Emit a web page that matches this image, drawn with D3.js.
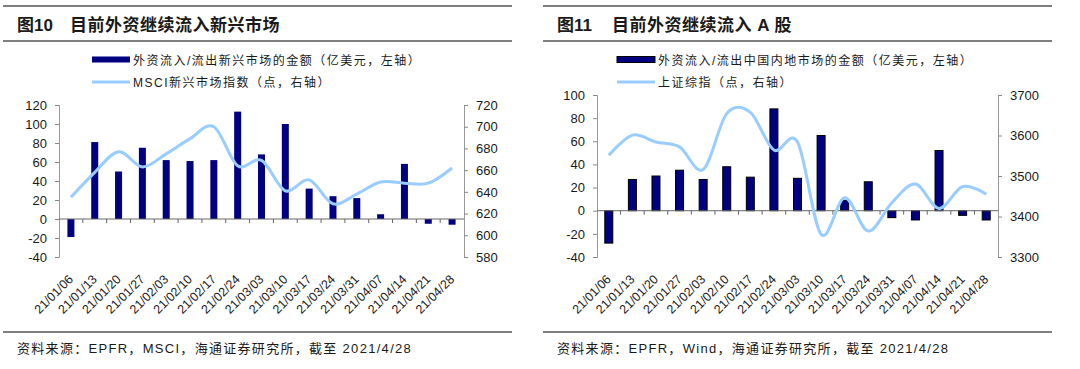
<!DOCTYPE html>
<html>
<head>
<meta charset="utf-8">
<script src="https://cdn.jsdelivr.net/npm/d3@7"></script>
<style>
  body { margin: 0; background: #fff; }
  svg text { font-family: "Liberation Sans", "Noto Sans CJK SC", sans-serif; fill: #1a1a1a; }
</style>
</head>
<body>
<div id="chart"></div>
<script>
// weeks (shared by both panels)
var dates = ["21/01/06","21/01/13","21/01/20","21/01/27","21/02/03","21/02/10","21/02/17","21/02/24",
             "21/03/03","21/03/10","21/03/17","21/03/24","21/03/31","21/04/07","21/04/14","21/04/21","21/04/28"];

// fig 10 - EM flows (100m USD) and MSCI EM index
var emFlow  = [-19, 81, 50, 75, 62, 61, 62, 113, 68, 100, 32, 24, 22, 5, 58, -5, -6];
var msciEM  = [635, 658, 677, 663, 675, 689, 700, 664, 669, 641, 651, 629, 638, 649, 648, 648, 662];
var emLeftTicks  = [-40, -20, 0, 20, 40, 60, 80, 100, 120];
var emRightTicks = [580, 600, 620, 640, 660, 680, 700, 720];

// fig 11 - China A flows and Shanghai composite
var cnFlow  = [-28, 27, 30, 35, 27, 38, 29, 88, 28, 65, 9, 25, -6, -8, 52, -4, -8];
var shComp  = [3551, 3601, 3584, 3572, 3516, 3654, 3657, 3564, 3584, 3356, 3446, 3364, 3434, 3480, 3420, 3474, 3455];
var cnLeftTicks  = [-40, -20, 0, 20, 40, 60, 80, 100];
var cnRightTicks = [3300, 3400, 3500, 3600, 3700];

var svg = d3.select("#chart").append("svg")
    .attr("width", 1080)
    .attr("height", 369);

function plain(d) { return String(d); }

function panel(o) {
  var g = svg.append("g").attr("transform", "translate(" + o.ox + ",0)");

  // rules
  [6, 41, 332].forEach(function(yy) {
    g.append("line")
      .attr("x1", 3).attr("x2", 512)
      .attr("y1", yy).attr("y2", yy)
      .style("stroke", "#555").style("stroke-width", 1.3);
  });

  // title
  g.append("text").attr("x", 17).attr("y", 31)
    .style("font-size", "17px").style("font-weight", "bold")
    .text(o.fig);
  g.append("text").attr("x", o.titleX).attr("y", 31)
    .style("font-size", "17px").style("font-weight", "bold")
    .style("letter-spacing", "0.5px")
    .text(o.title);

  // legend
  g.append("rect")
    .attr("x", o.legX).attr("y", 56.5)
    .attr("width", 38).attr("height", 6)
    .attr("fill", "#000080")
    .attr("stroke", o.barStroke).attr("stroke-width", o.barStroke == "none" ? 0 : 1);
  g.append("text").attr("x", o.legX + 41).attr("y", 64.5)
    .style("font-size", "12px").style("letter-spacing", "1.5px")
    .text(o.leg1);
  g.append("line")
    .attr("x1", o.legX).attr("x2", o.legX + 38)
    .attr("y1", 82).attr("y2", 82)
    .style("stroke", "#99ccff").style("stroke-width", 3);
  g.append("text").attr("x", o.legX + 41).attr("y", 87)
    .style("font-size", "12px").style("letter-spacing", "1.5px")
    .text(o.leg2);

  var x = d3.scaleBand().domain(dates).range([o.x0, o.x1]);
  var y = d3.scaleLinear().domain(o.yDom).range([o.yBottom, o.yTop]);
  var y2 = d3.scaleLinear().domain(o.y2Dom).range([o.yBottom, o.yTop]);

  var yAxis = d3.axisLeft(y).tickValues(o.yTicks).tickFormat(plain).tickSize(4).tickPadding(8);
  var yAxis2 = d3.axisRight(y2).tickValues(o.y2Ticks).tickFormat(plain).tickSize(4).tickPadding(8);

  var ga = g.append("g").attr("class", "y axis")
    .attr("transform", "translate(" + o.x0 + ",0)")
    .call(yAxis);
  var gb = g.append("g").attr("class", "y axis")
    .attr("transform", "translate(" + o.x1 + ",0)")
    .call(yAxis2);
  [ga, gb].forEach(function(a) {
    a.select(".domain").style("stroke", "#999");
    a.selectAll(".tick line").style("stroke", "#888");
    a.selectAll(".tick text").style("font-size", "13px").style("font-family", "Liberation Sans").attr("fill", "#1a1a1a");
  });

  // bars
  g.selectAll(".bar")
    .data(o.flow)
    .enter().append("rect")
    .attr("class", "bar")
    .attr("x", function(d, i) { return x(dates[i]) + x.bandwidth() / 2 - o.barW / 2; })
    .attr("y", function(d) { return y(Math.max(0, d)); })
    .attr("width", o.barW)
    .attr("height", function(d) { return Math.abs(y(d) - y(0)); })
    .attr("fill", "#000080")
    .attr("stroke", o.barStroke)
    .attr("stroke-width", o.barStroke == "none" ? 0 : 1);

  // category axis on zero
  g.append("line")
    .attr("x1", o.x0).attr("x2", o.x1)
    .attr("y1", y(0)).attr("y2", y(0))
    .style("stroke", "#666");
  g.selectAll(".xtick")
    .data(dates.slice(1))
    .enter().append("line")
    .attr("x1", function(d) { return x(d); })
    .attr("x2", function(d) { return x(d); })
    .attr("y1", y(0)).attr("y2", y(0) + 4)
    .style("stroke", "#666");

  // index line
  var line = d3.line()
    .curve(d3.curveCardinal.tension(0))
    .x(function(d, i) { return x(dates[i]) + x.bandwidth() / 2; })
    .y(function(d) { return y2(d); });
  g.append("path")
    .datum(o.idx)
    .attr("fill", "none")
    .attr("stroke", "#99ccff")
    .attr("stroke-width", 3)
    .attr("d", line);

  // date labels
  g.selectAll(".xlab")
    .data(dates)
    .enter().append("text")
    .attr("transform", function(d) {
      return "translate(" + (x(d) + x.bandwidth() / 2 + 3) + ",280) rotate(-45)";
    })
    .style("text-anchor", "end")
    .style("font-size", "12.5px")
    .text(function(d) { return d; });

  // source
  g.append("text").attr("x", 17).attr("y", 353)
    .style("font-size", "13px").style("letter-spacing", "1.3px")
    .text(o.source);
}

panel({
  ox: 0, fig: "图10", titleX: 70, title: "目前外资继续流入新兴市场",
  legX: 92,
  leg1: "外资流入/流出新兴市场的金额（亿美元，左轴）",
  leg2: "MSCI新兴市场指数（点，右轴）",
  x0: 59, x1: 464, yTop: 105, yBottom: 257,
  yDom: [-40, 120], y2Dom: [580, 720],
  yTicks: emLeftTicks, y2Ticks: emRightTicks,
  flow: emFlow, idx: msciEM, barW: 7, barStroke: "none",
  source: "资料来源：EPFR，MSCI，海通证券研究所，截至 2021/4/28"
});

panel({
  ox: 540, fig: "图11", titleX: 72, title: "目前外资继续流入 A 股",
  legX: 77,
  leg1: "外资流入/流出中国内地市场的金额（亿美元，左轴）",
  leg2: "上证综指（点，右轴）",
  x0: 57, x1: 458, yTop: 95, yBottom: 257,
  yDom: [-40, 100], y2Dom: [3300, 3700],
  yTicks: cnLeftTicks, y2Ticks: cnRightTicks,
  flow: cnFlow, idx: shComp, barW: 8, barStroke: "#000",
  source: "资料来源：EPFR，Wind，海通证券研究所，截至 2021/4/28"
});
</script>
</body>
</html>
